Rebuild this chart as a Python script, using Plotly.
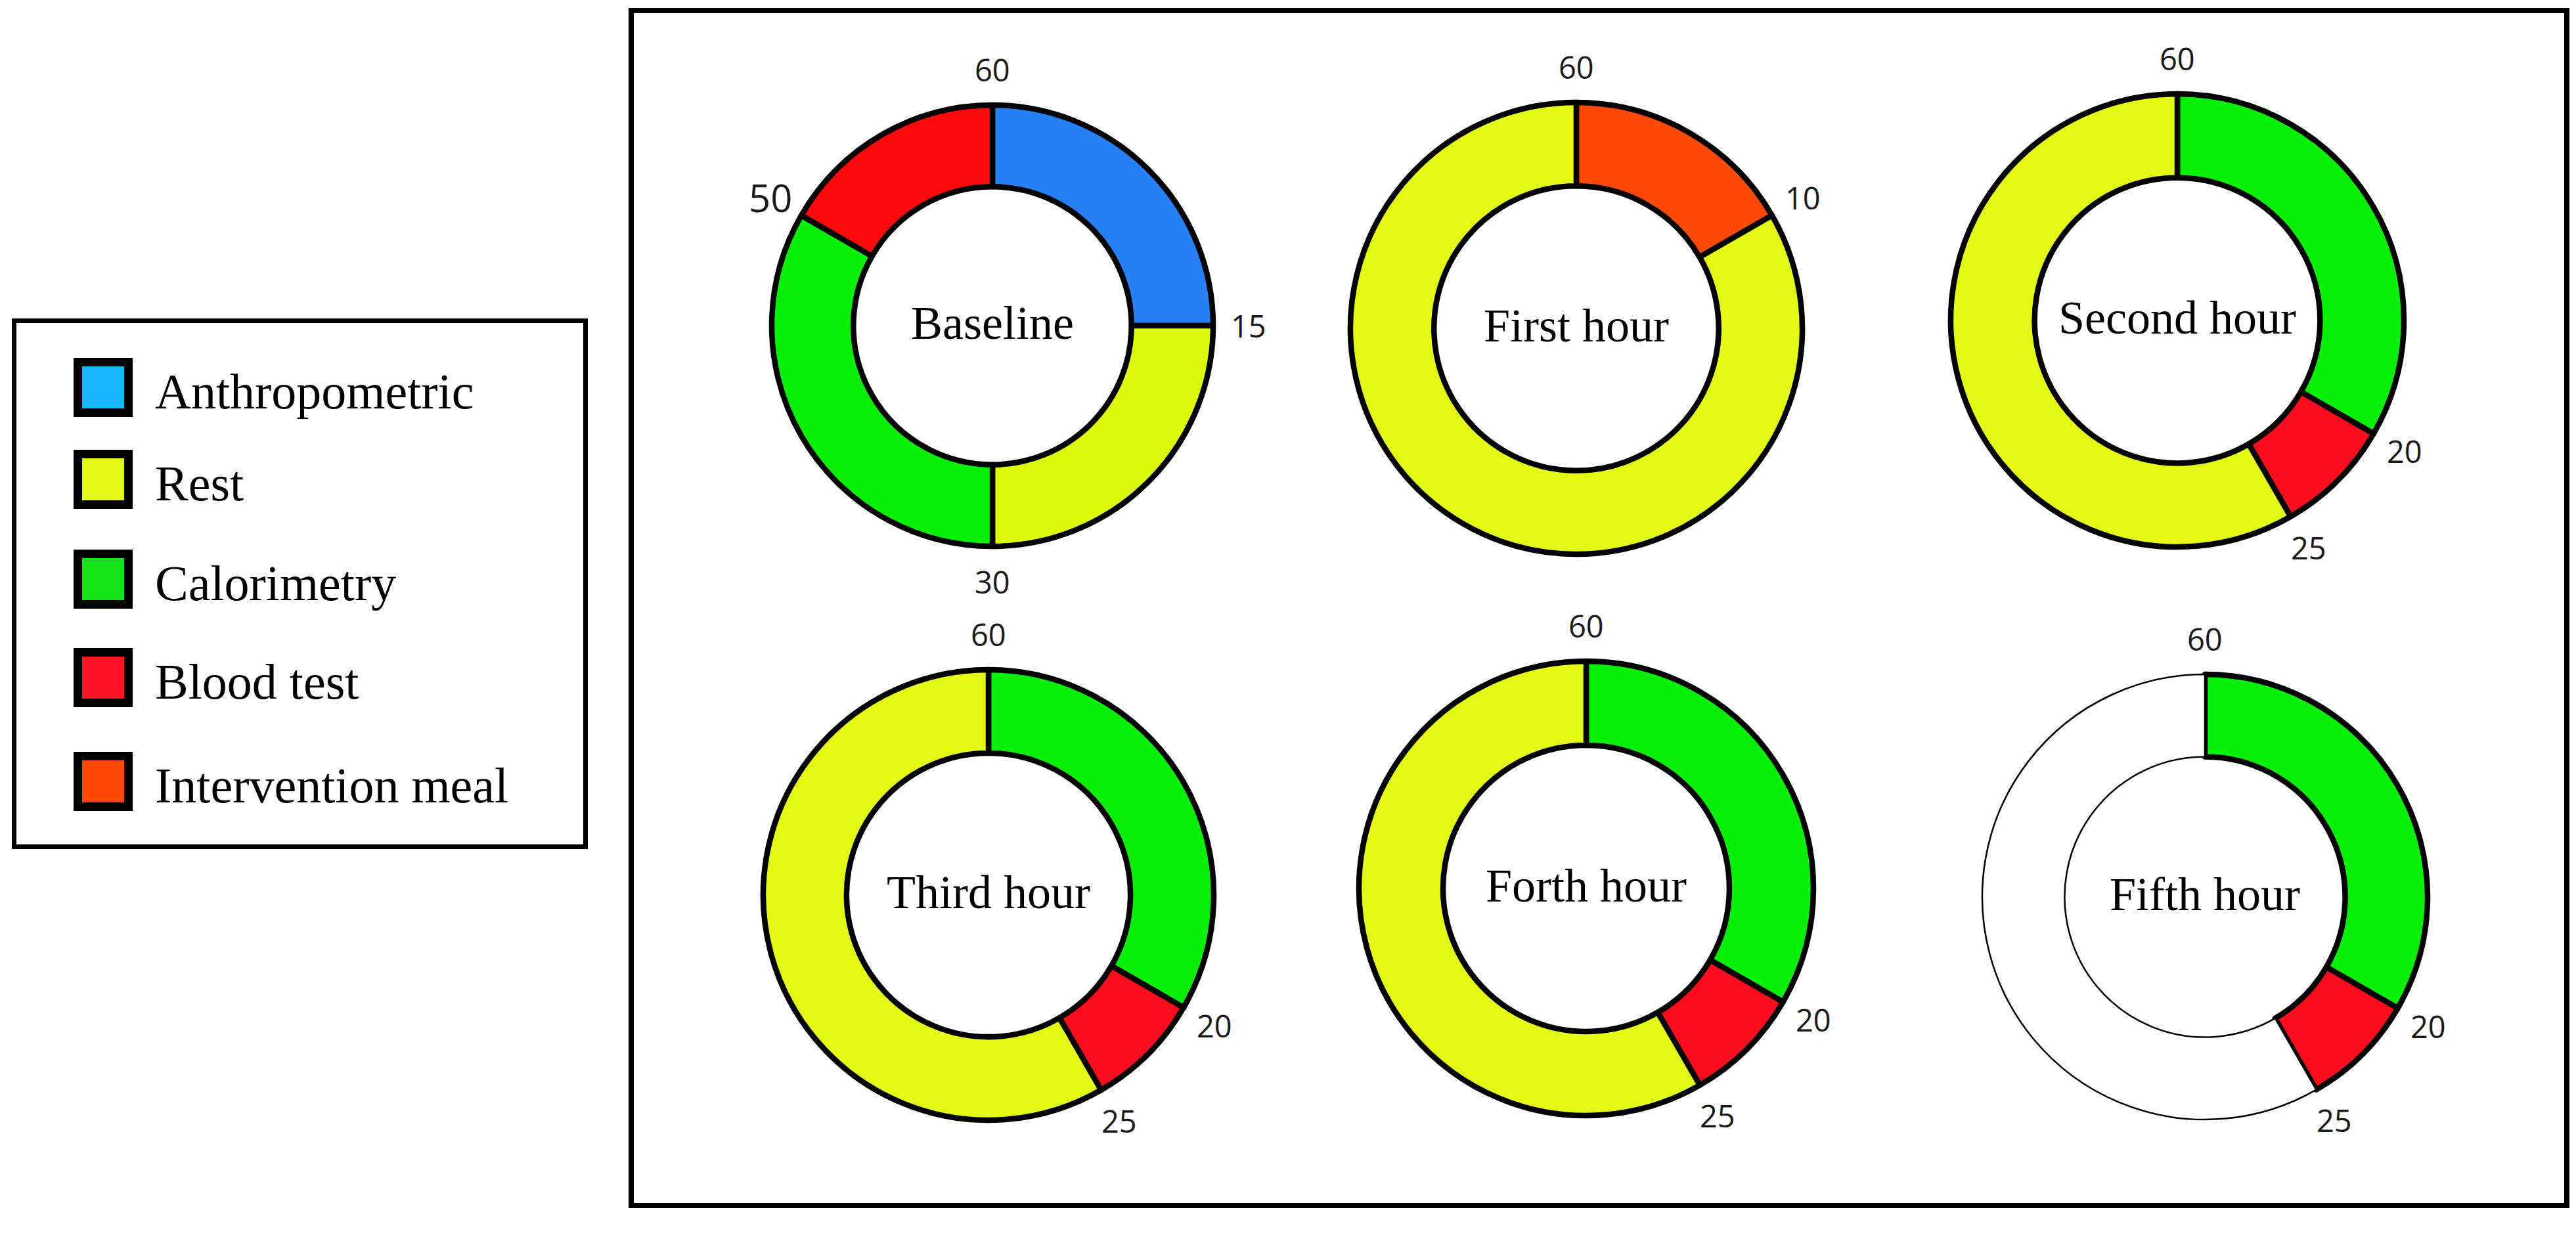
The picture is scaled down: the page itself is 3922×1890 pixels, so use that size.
import math
import plotly.graph_objects as go

# ---------------- data ----------------
chart_names = ["Baseline", "First hour", "Second hour", "Third hour", "Forth hour", "Fifth hour"]

baseline_cats = ["Anthropometric", "Rest", "Calorimetry", "Blood test"]
baseline_minutes = [15, 15, 20, 10]

first_cats = ["Intervention meal", "Rest"]
first_minutes = [10, 50]

second_cats = ["Calorimetry", "Blood test", "Rest"]
second_minutes = [20, 5, 35]

third_cats = ["Calorimetry", "Blood test", "Rest"]
third_minutes = [20, 5, 35]

forth_cats = ["Calorimetry", "Blood test", "Rest"]
forth_minutes = [20, 5, 35]

fifth_cats = ["Calorimetry", "Blood test", "Unscheduled"]
fifth_minutes = [20, 5, 35]

legend_cats = ["Anthropometric", "Rest", "Calorimetry", "Blood test", "Intervention meal"]

# ---------------- styles ----------------
W, H = 3922, 1890
slice_colors = {
    "Anthropometric": "#2680F8",
    "Rest": "#E4FA16",
    "Calorimetry": "#08F008",
    "Blood test": "#FF0C1E",
    "Intervention meal": "#FF4A08",
    "Unscheduled": "#FFFFFF",
}
baseline_override = {"Rest": "#DEFA0A", "Blood test": "#FF0A0A"}
legend_colors = ["#18B6FA", "#E4F81A", "#14E414", "#FF1428", "#FF4A0A"]

# centre (px) and path radius (px) of each donut
donut_geom = [
    (1511, 496, 336),
    (2400, 500, 344),
    (3315, 488, 345),
    (1505, 1363, 343),
    (2415, 1353, 346),
    (3357, 1366, 339),
]

series = [
    (baseline_cats, baseline_minutes),
    (first_cats, first_minutes),
    (second_cats, second_minutes),
    (third_cats, third_minutes),
    (forth_cats, forth_minutes),
    (fifth_cats, fifth_minutes),
]

label_size_override = {("Baseline", 50): 58}

SERIF = "Liberation Serif"
SANS = "Open Sans"

fig = go.Figure()
annotations = []
shapes = []

for name, (cats, mins), (cx, cy, r) in zip(chart_names, series, donut_geom):
    colors = []
    widths = []
    for c in cats:
        col = slice_colors[c]
        if name == "Baseline" and c in baseline_override:
            col = baseline_override[c]
        colors.append(col)
        widths.append(2.5 if c == "Unscheduled" else 8.5)
    fig.add_trace(go.Pie(
        labels=cats,
        values=mins,
        sort=False,
        direction="clockwise",
        rotation=0,
        hole=0.63,
        textinfo="none",
        hoverinfo="label+value",
        showlegend=False,
        marker=dict(colors=colors, line=dict(color="black", width=widths)),
        domain=dict(x=[(cx - r) / W, (cx + r) / W],
                    y=[1 - (cy + r) / H, 1 - (cy - r) / H]),
    ))
    # centre caption
    annotations.append(dict(
        x=cx / W, y=1 - (cy - 4) / H, xref="paper", yref="paper",
        text=name, showarrow=False, xanchor="center", yanchor="middle",
        font=dict(family=SERIF, size=72, color="black"),
    ))
    # boundary minute labels
    total = 0
    R = r + 4 + 50
    for m in mins:
        total += m
        th = total / 60 * 2 * math.pi
        px = cx + R * math.sin(th)
        py = cy - R * math.cos(th)
        annotations.append(dict(
            x=px / W, y=1 - py / H, xref="paper", yref="paper",
            text=str(total), showarrow=False, xanchor="center", yanchor="middle",
            font=dict(family=SANS, size=label_size_override.get((name, total), 47), color="#1a1a1a"),
        ))

# main frame
shapes.append(dict(type="rect", xref="paper", yref="paper",
                   x0=961 / W, x1=3908 / W, y0=1 - 1836 / H, y1=1 - 16 / H,
                   line=dict(color="black", width=8), fillcolor="rgba(0,0,0,0)", layer="below"))
# legend frame
shapes.append(dict(type="rect", xref="paper", yref="paper",
                   x0=21.5 / W, x1=891.5 / W, y0=1 - 1289.5 / H, y1=1 - 488.5 / H,
                   line=dict(color="black", width=7), fillcolor="rgba(0,0,0,0)", layer="below"))

# legend items
leg_rows = [590, 730, 882, 1032, 1190]
sw_cx, sw_half = 157, 38.5
for cat, col, yc in zip(legend_cats, legend_colors, leg_rows):
    shapes.append(dict(type="rect", xref="paper", yref="paper",
                       x0=(sw_cx - sw_half) / W, x1=(sw_cx + sw_half) / W,
                       y0=1 - (yc + sw_half) / H, y1=1 - (yc - sw_half) / H,
                       line=dict(color="black", width=13), fillcolor=col))
    annotations.append(dict(
        x=234 / W, y=1 - (yc + 6) / H, xref="paper", yref="paper",
        text=cat, showarrow=False, xanchor="left", yanchor="middle",
        font=dict(family=SERIF, size=76, color="black"),
    ))

fig.update_layout(
    width=W, height=H, autosize=False,
    margin=dict(l=0, r=0, t=0, b=0, pad=0),
    paper_bgcolor="white", plot_bgcolor="white",
    annotations=annotations, shapes=shapes,
)

fig.write_html("out.html")
